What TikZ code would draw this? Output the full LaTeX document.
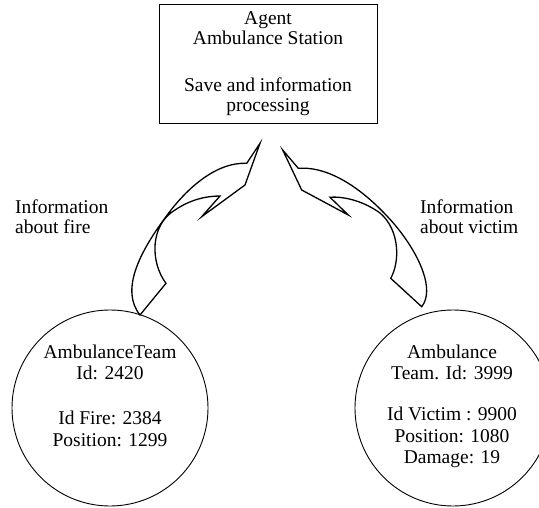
\documentclass[tikz,border=0pt]{standalone}
\usepackage{fontspec}
\setmainfont{Liberation Serif}
\newfontfamily\diagfont{Liberation Serif}
\usetikzlibrary{positioning}

\begin{document}
\begin{tikzpicture}[
    x=1pt, y=-1pt,
    txt/.style={font=\diagfont\fontsize{19.5}{20}\selectfont, align=center, inner sep=0pt},
    teamtxt/.style={font=\diagfont\fontsize{19.5}{21.5}\selectfont, align=center, inner sep=0pt, anchor=north},
    station/.style={draw, line width=0.9pt, minimum width=218pt, minimum height=119pt, inner sep=0pt},
    team/.style={draw, circle, line width=0.9pt, minimum size=196pt, inner sep=0pt},
    flow/.style={draw, line width=1.3pt, line join=miter},
]
\useasboundingbox (0,0) rectangle (539,508);
\clip (0,0) rectangle (539,508);

% Station box
\node[station, txt] (station) at (268,63.5)
    {Agent\\Ambulance Station\\[27pt]Save and information\\processing};

% Team circles
\node[team] (teamfire) at (110,408) {};
\node[teamtxt] (teamfiretxt) at (110,344.7)
    {AmbulanceTeam\\Id: 2420\\[23.5pt]Id Fire: 2384\\Position: 1299};

\node[team] (teamvictim) at (453,408) {};
\node[teamtxt] (teamvictimtxt) at (452,344.7)
    {Ambulance\\Team. Id: 3999\\[19.5pt]Id Victim : 9900\\Position: 1080\\Damage: 19};

% Arrow labels
\node[txt, align=left, anchor=north west] (fireinfo) at (15,199.7) {Information\\about fire};
\node[txt, align=left, anchor=north west] (victiminfo) at (420,199.7) {Information\\about victim};

% Curved block arrows
\draw[flow] (260,143.3) -- (246.7,163.3)
    .. controls (215,162) and (185,190) .. (165,218)
    .. controls (140,252) and (120,290) .. (140,315)
    -- (166,283.3)
    .. controls (150,262) and (150,225) .. (175,210)
    .. controls (190,200) and (205,196) .. (220,196)
    -- (201.7,216.7) -- (245,185) -- cycle;

\draw[flow] (282.7,150) -- (298.3,168.3)
    .. controls (330,166) and (365,190) .. (395,225)
    .. controls (420,255) and (435,290) .. (421.7,306.7)
    -- (390.7,278.3)
    .. controls (400,262) and (400,230) .. (380,213)
    .. controls (365,202) and (345,196) .. (330,197.3)
    -- (348.3,215) -- (301.7,190) -- cycle;
\end{tikzpicture}
\end{document}
